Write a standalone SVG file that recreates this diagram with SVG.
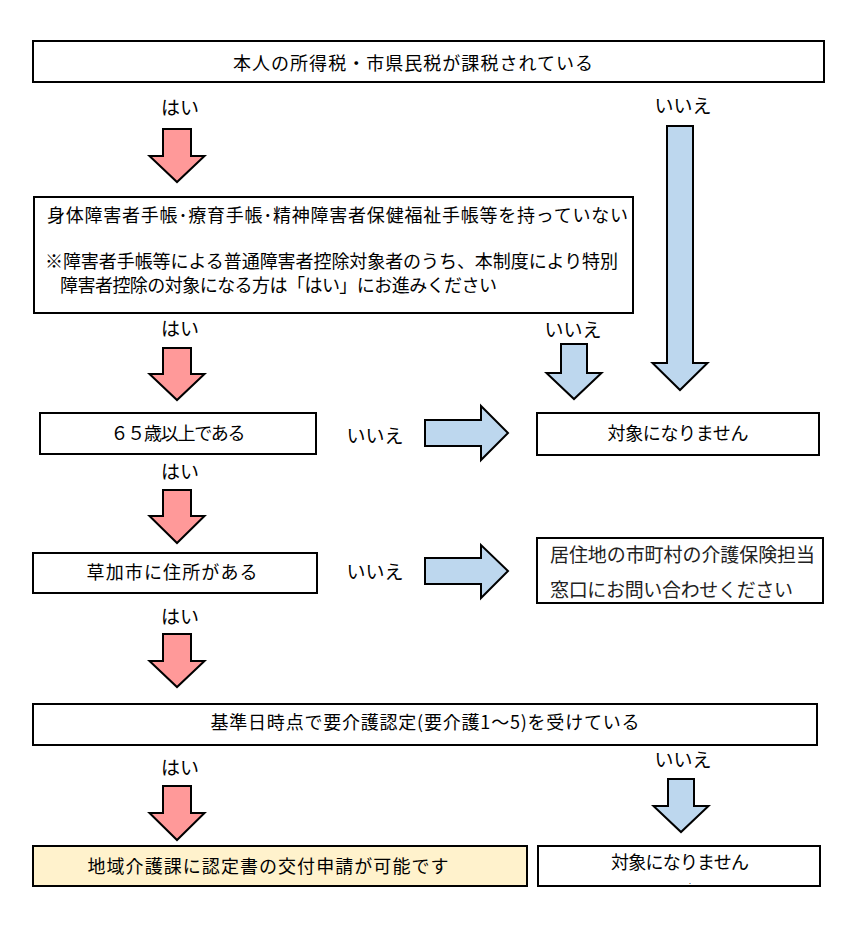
<svg xmlns="http://www.w3.org/2000/svg" width="859" height="938" viewBox="0 0 859 938">
<style>
text{font-family:"Noto Sans CJK JP","Noto Sans CJK SC",sans-serif;font-size:18px;fill:#000}
.box{fill:#fff;stroke:#000;stroke-width:2}
.yes{fill:#ff9999;stroke:#000;stroke-width:2;stroke-linejoin:miter}
.no{fill:#bdd7ee;stroke:#000;stroke-width:2;stroke-linejoin:miter}
.lbl{text-anchor:middle;font-size:19px}
.c{text-anchor:middle}
.thin{fill:#222;font-size:19px}
</style>
<rect width="859" height="938" fill="#fff"/>
<g id="connectors">
  <polygon class="yes" points="163,129 191,129 191,156 204.5,156 177,182 149.5,156 163,156"/>
  <polygon class="yes" points="163,348 191,348 191,374 204.5,374 177,400 149.5,374 163,374"/>
  <polygon class="yes" points="163,490 191,490 191,516 204.5,516 177,543 149.5,516 163,516"/>
  <polygon class="yes" points="163,634 191,634 191,661 204.5,661 177,687 149.5,661 163,661"/>
  <polygon class="yes" points="163,786 191,786 191,813 204.5,813 177,840 149.5,813 163,813"/>
  <polygon class="no" points="667,126 693,126 693,363 707.5,363 680,390 652.5,363 667,363"/>
  <polygon class="no" points="561,344 587,344 587,373 601.5,373 574,399 546.5,373 561,373"/>
  <polygon class="no" points="668,779 694,779 694,806 708.5,806 681,832 653.5,806 668,806"/>
  <polygon class="no" points="425,420 481,420 481,406 508,433 481,460 481,446 425,446"/>
  <polygon class="no" points="425,558 481,558 481,545 508,571 481,598 481,584 425,584"/>
  <text class="lbl" x="180" y="115">はい</text>
  <text class="lbl" x="683" y="113">いいえ</text>
  <text class="lbl" x="180" y="336">はい</text>
  <text class="lbl" x="573" y="337">いいえ</text>
  <text class="lbl" x="375" y="443">いいえ</text>
  <text class="lbl" x="180" y="479">はい</text>
  <text class="lbl" x="375" y="579">いいえ</text>
  <text class="lbl" x="180" y="624">はい</text>
  <text class="lbl" x="180" y="775">はい</text>
  <text class="lbl" x="683" y="767">いいえ</text>
</g>
<g id="node-taxed">
  <rect class="box" x="33" y="41" width="791" height="41"/>
  <text class="c" x="413" y="69.5" textLength="360">本人の所得税・市県民税が課税されている</text>
</g>
<g id="node-techo">
  <rect class="box" x="34" y="197" width="599" height="116"/>
  <text x="47" y="222" textLength="581">身体障害者手帳･療育手帳･精神障害者保健福祉手帳等を持っていない</text>
  <text x="45" y="268" textLength="573">※障害者手帳等による普通障害者控除対象者のうち、本制度により特別</text>
  <text x="60" y="292" textLength="437">障害者控除の対象になる方は「はい」にお進みください</text>
</g>
<g id="node-age">
  <rect class="box" x="40" y="413" width="276" height="41"/>
  <text class="c" x="178" y="440" textLength="135">６５歳以上である</text>
</g>
<g id="node-notarget1">
  <rect class="box" x="537" y="413" width="282" height="42"/>
  <text class="c" x="678" y="440" textLength="141">対象になりません</text>
</g>
<g id="node-address">
  <rect class="box" x="33" y="553" width="284" height="40"/>
  <text class="c" x="172" y="579" textLength="171">草加市に住所がある</text>
</g>
<g id="node-contact">
  <rect class="box" x="537" y="538" width="286" height="65"/>
  <text class="thin" x="550" y="562" textLength="265">居住地の市町村の介護保険担当</text>
  <text class="thin" x="550" y="597" textLength="243">窓口にお問い合わせください</text>
</g>
<g id="node-care">
  <rect class="box" x="33" y="704" width="784" height="41"/>
  <text class="c" x="425" y="729" textLength="429">基準日時点で要介護認定(要介護1～5)を受けている</text>
</g>
<g id="node-apply">
  <rect x="33" y="846" width="494" height="40" fill="#fff2cc" stroke="#000" stroke-width="2"/>
  <text class="c" x="268" y="873" textLength="361">地域介護課に認定書の交付申請が可能です</text>
</g>
<g id="node-notarget2">
  <rect class="box" x="538" y="846" width="282" height="40"/>
  <text class="c" x="680" y="869" textLength="138">対象になりません</text>
  <text x="689" y="884" style="font-size:7px">.</text>
</g>
</svg>
